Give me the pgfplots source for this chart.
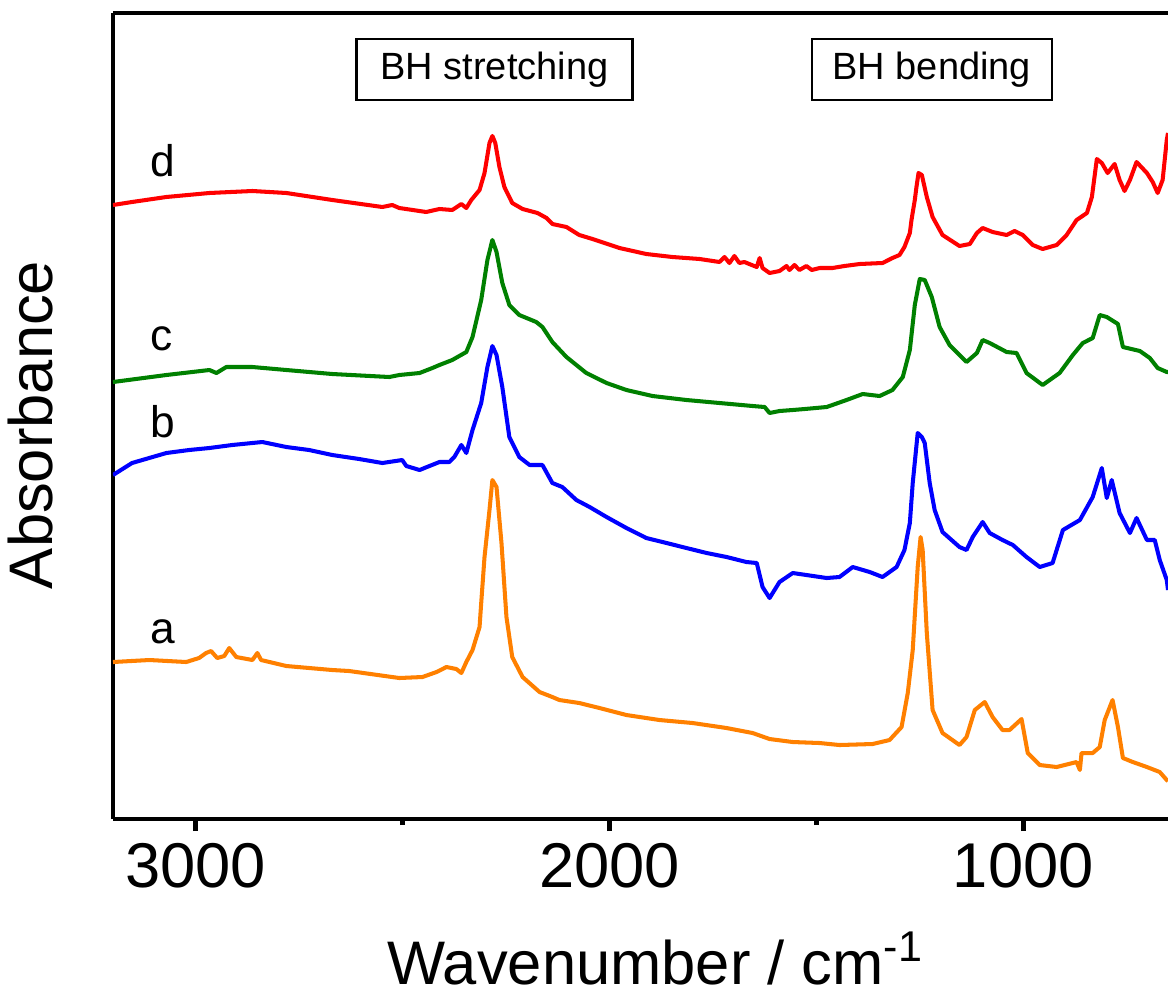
\documentclass[border=0pt]{standalone}
\usepackage{pgfplots}
\pgfplotsset{compat=1.18}
\usepackage{fontspec}
\setmainfont{Liberation Sans}

\definecolor{curvea}{RGB}{255,128,0}
\definecolor{curveb}{RGB}{0,0,255}
\definecolor{curvec}{RGB}{0,128,0}
\definecolor{curved}{RGB}{255,0,0}

\begin{document}
\begin{tikzpicture}
\begin{axis}[
  name=ax,
  width=10.55cm, height=8.06cm, scale only axis,
  x dir=reverse,
  xmin=650, xmax=3200, ymin=0, ymax=806,
  axis x line*=box, axis y line*=left,
  axis line style={line width=1.4pt, -},
  xtick={1000,2000,3000}, minor xtick={1500,2500},
  xtick pos=left, ytick=\empty,
  tick align=outside,
  major tick length=0.12cm, minor tick length=0.06cm,
  every tick/.style={black, line width=1.4pt},
  xticklabel style={font=\fontsize{18}{20}\selectfont},
  /pgf/number format/assume math mode=true,
  /pgf/number format/1000 sep={},
  xlabel={Wavenumber / cm\textsuperscript{-1}},
  ylabel={Absorbance},
  xlabel style={font=\fontsize{17.5}{20}\selectfont,
    at={(axis description cs:0.5,0)}, anchor=base, yshift=-1.65cm, xshift=0.15cm},
  ylabel style={font=\fontsize{17.5}{20}\selectfont,
    at={(axis description cs:-0.0578,0.489)}, anchor=base},
  every axis plot/.append style={line width=1.15pt, line join=round},
]
% d
\addplot[curved] coordinates {
(3200,614) (3154,617) (3071,622) (2967,626) (2863,628) (2781,626) (2670,619) (2549,612)
(2525,614) (2508,611) (2443,607) (2411,610) (2380,609) (2358,615) (2346,611)
(2334,619) (2314,629) (2302,646) (2290,676) (2283,683) (2276,676) (2266,652)
(2254,632) (2235,616) (2210,610) (2174,606) (2152,601) (2138,595) (2104,592)
(2073,584) (2041,580) (1976,571) (1911,565) (1848,562) (1782,560) (1734,557)
(1722,562) (1710,556) (1698,563) (1686,556) (1674,557) (1644,552) (1637,561)
(1630,551) (1613,546) (1589,548) (1572,553) (1565,549) (1553,554) (1541,549)
(1524,553) (1511,549) (1492,551) (1461,551) (1432,553) (1395,555) (1340,556)
(1316,561) (1299,564) (1287,572) (1274,586) (1270,599) (1262,619) (1258,632)
(1253,646) (1245,644) (1233,622) (1219,602) (1195,584) (1154,573) (1129,575)
(1112,586) (1098,591) (1074,587) (1040,584) (1021,588) (1001,584) (977,574)
(953,570) (919,574) (895,584) (871,599) (846,606) (834,622) (822,660)
(810,656) (796,646) (779,655) (767,639) (755,628) (742,639) (726,657)
(701,646) (687,637) (675,626) (663,639) (653,679) (650,686)
};
% c
\addplot[curvec] coordinates {
(3200,437) (3071,444) (2967,449) (2950,446) (2926,452) (2863,452) (2781,449)
(2670,445) (2532,442) (2508,444) (2459,446) (2428,451) (2411,454) (2380,459)
(2346,467) (2331,482) (2310,519) (2295,559) (2283,579) (2273,567) (2259,536)
(2242,514) (2218,504) (2177,497) (2162,492) (2138,477) (2104,462) (2056,446)
(2007,436) (1959,429) (1896,423) (1814,419) (1734,416) (1654,413) (1625,412)
(1613,406) (1589,408) (1557,409) (1528,410) (1475,412) (1427,419) (1388,425)
(1347,423) (1316,429) (1291,442) (1274,469) (1262,514) (1250,540) (1238,539)
(1221,522) (1202,492) (1178,474) (1137,457) (1112,466) (1098,479) (1081,476)
(1040,467) (1016,466) (992,446) (953,434) (912,446) (880,464) (856,476)
(832,481) (815,504) (798,502) (771,495) (759,472) (718,468) (694,461)
(675,451) (653,447) (650,447)
};
% b
\addplot[curveb] coordinates {
(3200,344) (3154,356) (3071,366) (3016,369) (2967,371) (2912,374) (2839,377)
(2781,372) (2726,369) (2670,364) (2605,360) (2549,356) (2501,359) (2491,353)
(2459,349) (2411,357) (2387,357) (2375,362) (2358,374) (2346,366) (2331,389)
(2310,416) (2295,452) (2283,473) (2273,464) (2259,432) (2242,382) (2218,362)
(2193,354) (2162,354) (2138,336) (2114,332) (2080,319) (2048,312) (2007,302)
(1959,291) (1911,281) (1862,276) (1814,271) (1765,266) (1717,262) (1669,257)
(1644,256) (1630,232) (1613,221) (1589,237) (1557,246) (1524,244) (1475,241)
(1444,242) (1412,252) (1371,247) (1340,242) (1306,252) (1287,269) (1274,296)
(1267,336) (1255,386) (1245,382) (1238,376) (1226,336) (1214,309) (1195,287)
(1154,272) (1137,269) (1122,282) (1098,297) (1081,286) (1050,279) (1025,274)
(992,262) (960,252) (929,256) (904,289) (863,299) (832,322) (810,351)
(798,321) (786,339) (767,306) (742,286) (726,301) (701,279) (682,279)
(670,259) (653,239) (650,229)
};
% a
\addplot[curvea] coordinates {
(3200,157) (3112,159) (3023,157) (2992,161) (2975,166) (2963,168) (2948,161)
(2931,163) (2919,171) (2902,162) (2863,159) (2851,166) (2842,159) (2781,153)
(2670,149) (2629,148) (2508,141) (2452,142) (2418,147) (2394,152) (2370,150)
(2358,146) (2346,157) (2331,169) (2314,192) (2310,216) (2302,262) (2290,309)
(2283,339) (2273,332) (2261,276) (2249,202) (2235,162) (2210,142) (2169,127)
(2138,122) (2121,119) (2073,116) (2024,111) (1959,104) (1879,99) (1799,96)
(1717,91) (1654,86) (1613,80) (1557,77) (1492,76) (1444,74) (1364,75)
(1323,79) (1294,92) (1279,126) (1267,169) (1255,252) (1248,282) (1243,269)
(1233,186) (1219,109) (1195,86) (1154,74) (1137,82) (1117,109) (1093,117)
(1074,102) (1050,89) (1033,89) (1004,100) (989,66) (960,54) (919,52)
(871,57) (863,49) (859,66) (832,66) (815,72) (803,99) (784,119) (771,92)
(759,61) (735,57) (701,52) (670,47) (653,39) (650,38)
};
\node[anchor=base west, inner sep=0pt, font=\fontsize{12.6}{14}\selectfont] at (axis cs:3112,642) {d};
\node[anchor=base west, inner sep=0pt, font=\fontsize{12.6}{14}\selectfont] at (axis cs:3112,469) {c};
\node[anchor=base west, inner sep=0pt, font=\fontsize{12.6}{14}\selectfont] at (axis cs:3112,382) {b};
\node[anchor=base west, inner sep=0pt, font=\fontsize{12.6}{14}\selectfont] at (axis cs:3112,176) {a};
\node[draw, line width=0.6pt, minimum width=2.76cm, minimum height=0.61cm, inner sep=0pt,
  font=\fontsize{10.8}{12}\selectfont] at (axis cs:2278,749.5) {BH stretching};
\node[draw, line width=0.6pt, minimum width=2.40cm, minimum height=0.61cm, inner sep=0pt,
  font=\fontsize{10.8}{12}\selectfont] at (axis cs:1221,749.5) {BH bending};
\end{axis}
\pgfresetboundingbox
\path[use as bounding box] ([xshift=-1.13cm,yshift=-1.76cm]ax.south west) rectangle ([yshift=0.13cm]ax.north east);
\end{tikzpicture}
\end{document}
